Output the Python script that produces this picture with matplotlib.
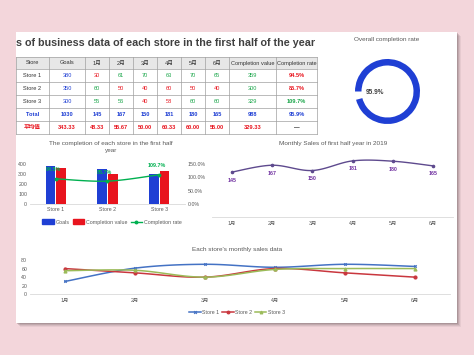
import numpy as np
import matplotlib
matplotlib.use('Agg')
import matplotlib.pyplot as plt
from matplotlib.patches import Rectangle
from matplotlib.lines import Line2D
from matplotlib.patches import Patch

plt.rcParams['font.family'] = ['Liberation Sans', 'Noto Sans CJK SC', 'DejaVu Sans']

# ---------------- data ----------------
stores = ['Store 1', 'Store 2', 'Store 3']
months = ['1月', '2月', '3月', '4月', '5月', '6月']
goals = [380, 350, 300]
store1 = [30, 61, 70, 63, 70, 65]
store2 = [60, 50, 40, 60, 50, 40]
store3 = [55, 56, 40, 58, 60, 60]
completion_value = [359, 300, 329]
completion_rate = [94.5, 85.7, 109.7]
monthly_total = [145, 167, 150, 181, 180, 165]
monthly_avg = [48.33, 55.67, 50.00, 60.33, 60.00, 55.00]
goals_total, value_total = 1030, 988
goals_avg, value_avg = 343.33, 329.33
overall_rate = 95.9
table_title = 's of business data of each store in the first half of the year'
header = ['Store', 'Goals'] + months + ['Completion value', 'Completion rate']

# ---------------- style ----------------
PINK = '#f3d6db'
BLUE = '#1f3fd4'
RED = '#e8141e'
GREEN = '#1aa64a'
LINEGREEN = '#00b050'
GRAY = '#595959'
S_COLORS = ['#4472c4', '#c9373e', '#9bbb59']
S_MARKERS = ['x', 'o', '^']

W, H = 474, 355
fig = plt.figure(figsize=(W / 100, H / 100), dpi=100, facecolor=PINK)


def px_axes(x0, y0, x1, y1, **kw):
    return fig.add_axes([x0 / W, 1 - y1 / H, (x1 - x0) / W, (y1 - y0) / H], **kw)


def smooth(x, y, n=24):
    P = np.column_stack([np.asarray(x, float), np.asarray(y, float)])
    P = np.vstack([P[0], P, P[-1]])
    out = []
    for i in range(1, len(P) - 2):
        p0, p1, p2, p3 = P[i - 1], P[i], P[i + 1], P[i + 2]
        t = np.linspace(0, 1, n, endpoint=(i == len(P) - 3))[:, None]
        pts = 0.5 * ((2 * p1) + (-p0 + p2) * t + (2 * p0 - 5 * p1 + 4 * p2 - p3) * t ** 2
                     + (-p0 + 3 * p1 - 3 * p2 + p3) * t ** 3)
        out.append(pts)
    out = np.vstack(out)
    return out[:, 0], out[:, 1]


bg = fig.add_axes([0, 0, 1, 1])
bg.set_xlim(0, W)
bg.set_ylim(H, 0)
bg.axis('off')
bg.set_zorder(-5)

# paper + shadow
for d, a in [(4, 0.10), (3, 0.15), (2, 0.22), (1, 0.3)]:
    bg.add_patch(Rectangle((16 + d, 32 + d), 441, 291, facecolor='#7a6a6c', alpha=a, lw=0))
bg.add_patch(Rectangle((16, 32), 441, 291, facecolor='white', lw=0))

# ---------------- table ----------------
clip = Rectangle((16, 0), 301, H, transform=bg.transData, visible=False)
bg.add_patch(clip)
t = bg.text(16, 43.5, table_title, fontsize=7.75, fontweight='bold', color='#404040',
            ha='left', va='center')
t.set_clip_path(clip)

col_edges = [16, 49, 85, 109, 133, 157, 181, 205, 229, 276, 317]
row_edges = [57, 69, 82, 95, 108, 121, 134]

rows = [[(h, '#333333', 'normal') for h in header]]
for i, s in enumerate(stores):
    vals = [store1, store2, store3][i]
    r = [(s, '#333333', 'normal'), (str(goals[i]), BLUE, 'normal')]
    for v, a in zip(vals, monthly_avg):
        r.append((str(v), GREEN if v >= a else RED, 'normal'))
    r.append((str(completion_value[i]), GREEN, 'normal'))
    r.append((f'{completion_rate[i]:.1f}%', GREEN if completion_rate[i] >= 100 else RED, 'bold'))
    rows.append(r)
rows.append([('Total', BLUE, 'bold'), (str(goals_total), BLUE, 'bold')]
            + [(str(v), BLUE, 'bold') for v in monthly_total]
            + [(str(value_total), BLUE, 'bold'), (f'{overall_rate:.1f}%', BLUE, 'bold')])
rows.append([('平均值', RED, 'bold'), (f'{goals_avg:.2f}', RED, 'bold')]
            + [(f'{v:.2f}', RED, 'bold') for v in monthly_avg]
            + [(f'{value_avg:.2f}', RED, 'bold'), ('—', '#111111', 'bold')])

bg.add_patch(Rectangle((col_edges[0], row_edges[0]), col_edges[-1] - col_edges[0],
                       row_edges[1] - row_edges[0], facecolor='#e7e7e7', lw=0))
for x in col_edges:
    bg.plot([x, x], [row_edges[0], row_edges[-1]], color='#a0a0a0', lw=0.5)
for y in row_edges:
    bg.plot([col_edges[0], col_edges[-1]], [y, y], color='#a0a0a0', lw=0.5)
for ri, r in enumerate(rows):
    yc = (row_edges[ri] + row_edges[ri + 1]) / 2
    for ci, (txt, c, w) in enumerate(r):
        xc = (col_edges[ci] + col_edges[ci + 1]) / 2
        tt = bg.text(xc, yc, txt, fontsize=4.1, color=c, fontweight=w, ha='center', va='center')
        tt.set_clip_path(clip)

# ---------------- donut ----------------
bg.text(387, 40, 'Overall completion rate', fontsize=4.6, color=GRAY, ha='center', va='center')
axd = px_axes(355, 59, 420, 124)
axd.pie([overall_rate, 100 - overall_rate], colors=[BLUE, 'none'], startangle=180,
        counterclock=False, radius=1, wedgeprops=dict(width=0.2, lw=0))
axd.set_aspect('equal')
axd.set_xlim(-1, 1)
axd.set_ylim(-1, 1)
bg.text(375, 93, f'{overall_rate:.1f}%', fontsize=4.7, fontweight='bold', color='#404040',
        ha='center', va='center')

# ---------------- bar + line combo ----------------
bg.text(111, 147, 'The completion of each store in the first half\nyear', fontsize=4.6,
        color=GRAY, ha='center', va='center', linespacing=1.5)
ax1 = px_axes(30, 164, 185, 204)
x = np.arange(len(stores))
bw = 0.19
ax1.bar(x - 0.105, goals, bw, color=BLUE, zorder=2)
ax1.bar(x + 0.105, completion_value, bw, color=RED, zorder=2)
ax1.set_xlim(-0.5, 2.5)
ax1.set_ylim(0, 400)
ax1.set_yticks([0, 100, 200, 300, 400])
ax1.set_xticks(x)
ax1.set_xticklabels(stores)
ax2 = ax1.twinx()
rate = np.array(completion_rate) / 100
sx, sy = smooth(x, rate)
ax2.plot(sx, sy, color=LINEGREEN, lw=1.0, zorder=3)
ax2.plot(x, rate, 'o', color=LINEGREEN, ms=1.8, zorder=3)
for xi, r in zip(x, completion_rate):
    ax2.annotate(f'{r:.1f}%', (xi, r / 100), xytext=(-2, 6.5), textcoords='offset points',
                 ha='center', va='center', fontsize=3.9, fontweight='bold', color=LINEGREEN)
ax2.set_ylim(0, 1.5)
ax2.set_yticks([0, 0.5, 1.0, 1.5])
ax2.set_yticklabels([f'{v * 100:.1f}%' for v in [0, 0.5, 1.0, 1.5]])
for a in (ax1, ax2):
    for s in a.spines.values():
        s.set_visible(False)
    a.tick_params(length=0, labelsize=3.8, labelcolor=GRAY, pad=2)
ax1.spines['bottom'].set_visible(True)
ax1.spines['bottom'].set_color('#d9d9d9')
ax1.spines['bottom'].set_linewidth(0.6)
ax1.patch.set_visible(False)
handles = [Patch(color=BLUE), Patch(color=RED),
           Line2D([], [], color=LINEGREEN, marker='o', ms=1.8, lw=1.0)]
fig.legend(handles, ['Goals', 'Completion value', 'Completion rate'], loc='center',
           bbox_to_anchor=(112 / W, 1 - 222 / H), ncol=3, frameon=False, fontsize=3.8,
           handlelength=2.2, handleheight=0.9, handletextpad=0.3, columnspacing=0.6,
           labelcolor=GRAY)

# ---------------- monthly sales ----------------
bg.text(333, 143, 'Monthly Sales of first half year in 2019', fontsize=4.6, color=GRAY,
        ha='center', va='center')
ax3 = px_axes(212, 155, 453, 217)
xm = np.arange(len(months))
sx, sy = smooth(xm, monthly_total)
ax3.plot(sx, sy, color='#5e4a8e', lw=1.0)
ax3.plot(xm, monthly_total, 'o', color='#5e4a8e', ms=1.6)
for xi, v in zip(xm, monthly_total):
    ax3.annotate(str(v), (xi, v), xytext=(0, -5.8), textcoords='offset points', ha='center',
                 va='center', fontsize=3.8, fontweight='bold', color='#7030a0')
ax3.set_xlim(-0.5, 5.5)
ax3.set_ylim(0, 200)
ax3.set_yticks([])
ax3.set_xticks(xm)
ax3.set_xticklabels(months)
for s in ax3.spines.values():
    s.set_visible(False)
ax3.spines['bottom'].set_visible(True)
ax3.spines['bottom'].set_color('#d9d9d9')
ax3.spines['bottom'].set_linewidth(0.6)
ax3.tick_params(length=0, labelsize=3.8, labelcolor=GRAY, pad=3)
ax3.patch.set_visible(False)

# ---------------- each store monthly ----------------
bg.text(237, 249, "Each store's monthly sales data", fontsize=4.6, color=GRAY,
        ha='center', va='center')
ax4 = px_axes(30, 260, 450, 294.3)
for vals, c, m, lab in zip([store1, store2, store3], S_COLORS, S_MARKERS, stores):
    sx, sy = smooth(xm, vals)
    ax4.plot(sx, sy, color=c, lw=1.1)
    ax4.plot(xm, vals, m, color=c, ms=2.2 if m != 'x' else 1.8, mew=0.8, label=lab)
ax4.set_xlim(-0.5, 5.5)
ax4.set_ylim(0, 80)
ax4.set_yticks([0, 20, 40, 60, 80])
ax4.set_xticks(xm)
ax4.set_xticklabels(months)
for s in ax4.spines.values():
    s.set_visible(False)
ax4.spines['bottom'].set_visible(True)
ax4.spines['bottom'].set_color('#d9d9d9')
ax4.spines['bottom'].set_linewidth(0.6)
ax4.tick_params(length=0, labelsize=3.8, labelcolor=GRAY)
ax4.tick_params(axis='x', pad=3)
ax4.tick_params(axis='y', pad=2)
ax4.patch.set_visible(False)
h4 = [Line2D([], [], color=c, marker=m, ms=2.0, lw=1.1, mew=0.8)
      for c, m in zip(S_COLORS, S_MARKERS)]
fig.legend(h4, stores, loc='center', bbox_to_anchor=(237 / W, 1 - 312.7 / H), ncol=3,
           frameon=False, fontsize=3.8, handlelength=2.2, handletextpad=0.3,
           columnspacing=0.5, labelcolor=GRAY)

fig.savefig('out.png', dpi=100, facecolor=PINK)
